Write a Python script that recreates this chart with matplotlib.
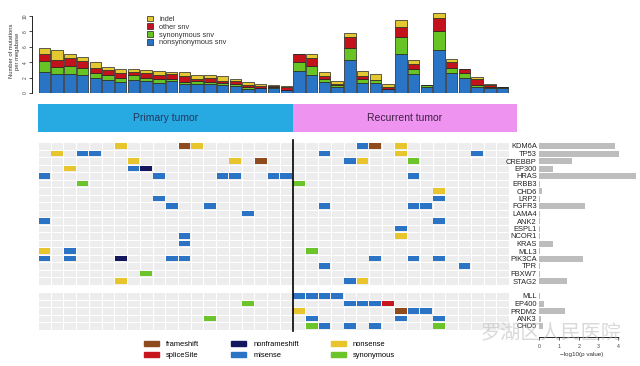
import numpy as np
import matplotlib
matplotlib.use('Agg')
import matplotlib.pyplot as plt
from matplotlib.patches import Patch

plt.rcParams['font.family'] = ['Liberation Sans', 'Noto Sans CJK SC', 'DejaVu Sans']

# ---- data ----
# mutation burden per sample (20 primary, 17 recurrent)
nonsyn_snv = [2.70, 2.48, 2.48, 2.35, 1.91, 1.70, 1.48, 1.65, 1.52, 1.35,
              1.52, 1.20, 1.22, 1.13, 1.00, 0.85, 0.57, 0.60, 0.65, 0.40,
              2.87, 2.35, 1.39, 0.74, 4.30, 1.35, 1.26, 0.50, 5.04, 2.48,
              0.74, 5.57, 2.65, 1.91, 0.83, 0.70, 0.70]
syn_snv = [1.39, 0.87, 1.04, 0.95, 0.66, 0.60, 0.52, 0.74, 0.39, 0.48,
           0.31, 0.28, 0.33, 0.26, 0.35, 0.35, 0.26, 0.10, 0.08, 0.05,
           1.13, 1.13, 0.39, 0.26, 1.53, 0.48, 0.39, 0.07, 2.18, 0.65,
           0.26, 2.43, 0.65, 0.66, 0.26, 0.05, 0.03]
other_snv = [0.95, 0.95, 0.96, 0.79, 0.73, 0.70, 0.57, 0.39, 0.74, 0.56,
             0.60, 0.72, 0.30, 0.57, 0.26, 0.30, 0.17, 0.25, 0.17, 0.33,
             1.00, 1.00, 0.44, 0.17, 1.39, 0.39, 0.09, 0.17, 1.39, 0.65,
             0.00, 1.70, 0.66, 0.48, 0.69, 0.30, 0.08]
indel = [0.83, 1.22, 0.61, 0.52, 0.66, 0.39, 0.60, 0.35, 0.39, 0.48,
         0.35, 0.50, 0.47, 0.34, 0.65, 0.28, 0.48, 0.18, 0.20, 0.12,
         0.04, 0.56, 0.56, 0.44, 0.61, 0.69, 0.74, 0.43, 0.91, 0.44,
         0.00, 0.69, 0.43, 0.08, 0.35, 0.12, 0.02]
n_primary = 20

genes_top = ['KDM6A', 'TP53', 'CREBBP', 'EP300', 'HRAS', 'ERBB3', 'CHD6', 'LRP2',
             'FGFR3', 'LAMA4', 'ANK2', 'ESPL1', 'NCOR1', 'KRAS', 'MLL3', 'PIK3CA',
             'TPR', 'FBXW7', 'STAG2']
genes_bottom = ['MLL', 'EP400', 'PRDM2', 'ANK3', 'CHD5']
pval_top = [3.85, 4.07, 1.64, 0.71, 4.90, 0.02, 0.15, 0.02, 2.30, 0.05, 0.02,
            0.05, 0.02, 0.70, 0.03, 2.24, 0.03, 0.03, 1.42]
pval_bottom = [0.05, 0.25, 1.32, 0.10, 0.20]

# (gene, sample index)
frameshift = [('KDM6A', 11), ('CREBBP', 17), ('KDM6A', 26), ('PRDM2', 28)]
nonframeshift = [('EP300', 8), ('PIK3CA', 6)]
nonsense = [('KDM6A', 6), ('KDM6A', 12), ('TP53', 1), ('CREBBP', 7), ('CREBBP', 15),
            ('EP300', 2), ('MLL3', 0), ('STAG2', 6),
            ('KDM6A', 28), ('TP53', 28), ('CREBBP', 25), ('CHD6', 31), ('NCOR1', 28),
            ('STAG2', 25), ('PRDM2', 20)]
splicesite = [('EP400', 27)]
misense = [('TP53', 3), ('TP53', 4), ('EP300', 7), ('HRAS', 0), ('HRAS', 9), ('HRAS', 14),
           ('HRAS', 15), ('HRAS', 18), ('HRAS', 19), ('LRP2', 9), ('FGFR3', 10),
           ('FGFR3', 13), ('LAMA4', 16), ('ANK2', 0), ('NCOR1', 11), ('KRAS', 11),
           ('MLL3', 2), ('PIK3CA', 0), ('PIK3CA', 2), ('PIK3CA', 10), ('PIK3CA', 11),
           ('KDM6A', 25), ('TP53', 22), ('TP53', 34), ('CREBBP', 24), ('HRAS', 29),
           ('LRP2', 31), ('FGFR3', 22), ('FGFR3', 29), ('FGFR3', 30), ('ANK2', 31),
           ('ESPL1', 28), ('PIK3CA', 26), ('PIK3CA', 29), ('PIK3CA', 31), ('TPR', 22),
           ('TPR', 33), ('STAG2', 24),
           ('MLL', 20), ('MLL', 21), ('MLL', 22), ('MLL', 23), ('EP400', 24),
           ('EP400', 25), ('EP400', 26), ('PRDM2', 29), ('PRDM2', 30), ('ANK3', 21),
           ('ANK3', 28), ('ANK3', 31), ('CHD5', 22), ('CHD5', 24), ('CHD5', 26)]
synonymous = [('ERBB3', 3), ('FBXW7', 8), ('EP400', 16), ('ANK3', 13),
              ('CREBBP', 29), ('ERBB3', 20), ('MLL3', 21), ('CHD5', 21), ('CHD5', 31)]

W, H = 640, 366
fig = plt.figure(figsize=(W / 100, H / 100), dpi=100)


def add_ax(x0, y0, x1, y1):
    return fig.add_axes([x0 / W, 1 - y1 / H, (x1 - x0) / W, (y1 - y0) / H])


n = len(nonsyn_snv)
x = np.arange(n)
col_px = (509 - 38) / n

# ---- top stacked bars ----
ax = add_ax(32, 9, 512, 93)
c_blue, c_green, c_red, c_yel = '#2a74c6', '#68c425', '#c3121c', '#e3c832'
b1 = np.array(nonsyn_snv)
b2 = b1 + np.array(syn_snv)
b3 = b2 + np.array(other_snv)
kw = dict(width=0.9, edgecolor='#222222', linewidth=0.5)
h_ns = ax.bar(x, nonsyn_snv, color=c_blue, **kw)
h_s = ax.bar(x, syn_snv, bottom=b1, color=c_green, **kw)
h_o = ax.bar(x, other_snv, bottom=b2, color=c_red, **kw)
h_i = ax.bar(x, indel, bottom=b3, color=c_yel, **kw)
left = -0.5 - 6 / col_px
ax.set_xlim(left, left + 480 / col_px)
ax.set_ylim(0, 10.9)
for s in ['top', 'right', 'bottom']:
    ax.spines[s].set_visible(False)
ax.spines['left'].set_bounds(0, 10)
ax.spines['left'].set_linewidth(0.6)
ax.set_xticks([])
ax.set_yticks([0, 2, 4, 6, 8, 10])
ax.tick_params(axis='y', labelsize=3.5, length=2, width=0.5, pad=1, labelcolor='#444444',
               labelrotation=90)
for t in ax.get_yticklabels():
    t.set_va('center')
ax.set_ylabel('Number of mutations\nper megabase', fontsize=4.2, color='#333333',
              labelpad=2, linespacing=1.2)
leg = ax.legend([h_i, h_o, h_s, h_ns], ['indel', 'other snv', 'synonymous snv',
                                        'nonsynonymous snv'],
                loc='upper left', bbox_to_anchor=(143 / W, 1 - 12 / H),
                bbox_transform=fig.transFigure, frameon=False, fontsize=5.3,
                handlelength=0.8, handleheight=0.8, handletextpad=0.9,
                labelspacing=0.05, borderpad=0)
for t in leg.get_texts():
    t.set_color('#333333')

# ---- sample group header ----
axh = add_ax(38, 104, 517, 132)
axh.barh(0, n_primary, left=-0.5, height=1, color='#27a9e1')
axh.barh(0, n - n_primary + (517 - 509) / col_px, left=n_primary - 0.5, height=1,
         color='#ef93f0')
axh.set_xlim(-0.5, n - 0.5 + (517 - 509) / col_px)
axh.set_ylim(-0.5, 0.5)
axh.axis('off')
axh.text(n_primary / 2 - 0.5, 0, 'Primary tumor', ha='center', va='center',
         fontsize=7.5, color='#22385e')
axh.text(n_primary - 0.5 + (n - n_primary) / 2 + 0.3, 0, 'Recurrent tumor', ha='center',
         va='center', fontsize=7.5, color='#3d1f45')

# ---- mutation matrix ----
rows = {g: i for i, g in enumerate(genes_top)}
rows.update({g: len(genes_top) + 1 + i for i, g in enumerate(genes_bottom)})
n_rows = len(genes_top) + 1 + len(genes_bottom)

axm = add_ax(38, 142.25, 509, 329.75)
bg = np.ma.masked_array(np.ones((n_rows, n)), mask=False)
bg.mask[len(genes_top), :] = True
axm.pcolormesh(np.arange(n + 1) - 0.5, np.arange(n_rows + 1) - 0.5, bg,
               cmap=matplotlib.colors.ListedColormap(['#ededed']),
               edgecolors='white', linewidth=0.5)
mut_types = [(frameshift, '#8f4a1e', 'frameshift'), (nonframeshift, '#15175e', 'nonframeshift'),
             (nonsense, '#e8c52c', 'nonsense'), (splicesite, '#c8161f', 'spliceSite'),
             (misense, '#2b73c5', 'misense'), (synonymous, '#6cc42b', 'synonymous')]
for hits, color, name in mut_types:
    xs = [s for g, s in hits]
    ys = np.array([rows[g] for g, s in hits])
    axm.bar(xs, 0.78, bottom=ys - 0.39, width=0.92, color=color, linewidth=0)
axm.set_xlim(-0.5, n - 0.5)
axm.set_ylim(n_rows - 0.5, -0.5)
axm.axis('off')
axm.plot([n_primary - 0.5, n_primary - 0.5], [-0.8, n_rows - 0.3], color='black',
         lw=1.2, clip_on=False)

# ---- -log10(p) bars with gene names ----
axp = add_ax(539.3, 142.25, 640, 337)
all_genes = genes_top + genes_bottom
all_p = pval_top + pval_bottom
axp.barh([rows[g] for g in all_genes], all_p, height=0.8, color='#bdbdbd')
axp.set_xlim(0, 100.7 / 19.7)
axp.set_ylim(-0.5 + (337 - 142.25) / 7.5, -0.5)
axp.set_yticks([rows[g] for g in all_genes])
axp.set_yticklabels(all_genes, fontsize=5.4, color='#222222')
axp.tick_params(axis='y', length=0, pad=1.8)
for s in ['top', 'right', 'left']:
    axp.spines[s].set_visible(False)
axp.spines['bottom'].set_bounds(0, 4)
axp.spines['bottom'].set_linewidth(0.6)
axp.set_xticks([0, 1, 2, 3, 4])
axp.tick_params(axis='x', labelsize=3.8, length=2, width=0.5, pad=3, labelcolor='#444444')
axp.set_xlabel('\u2212log10(p value)', fontsize=4.5, color='#333333', labelpad=3)
axp.xaxis.set_label_coords(42.7 / 100.7, -0.075)

# ---- mutation type legend ----
handles = [Patch(color=c, label=nm) for h, c, nm in mut_types]
order = [0, 3, 1, 4, 2, 5]
fig.legend([handles[i] for i in order], [mut_types[i][2] for i in order],
           loc='upper left', bbox_to_anchor=(140 / W, 1 - 337 / H), ncol=3,
           frameon=False, fontsize=5.4, handlelength=2.0, handleheight=0.8,
           handletextpad=1.0, columnspacing=4.2, labelspacing=0.45, borderpad=0)

# watermark
fig.text(480 / W, 1 - 334 / H, '罗湖区人民医院', fontsize=14.5, color='#bbbbbb', alpha=0.55,
         va='center', ha='left', family=['Noto Sans CJK SC'])

fig.savefig('out.png', dpi=100)
